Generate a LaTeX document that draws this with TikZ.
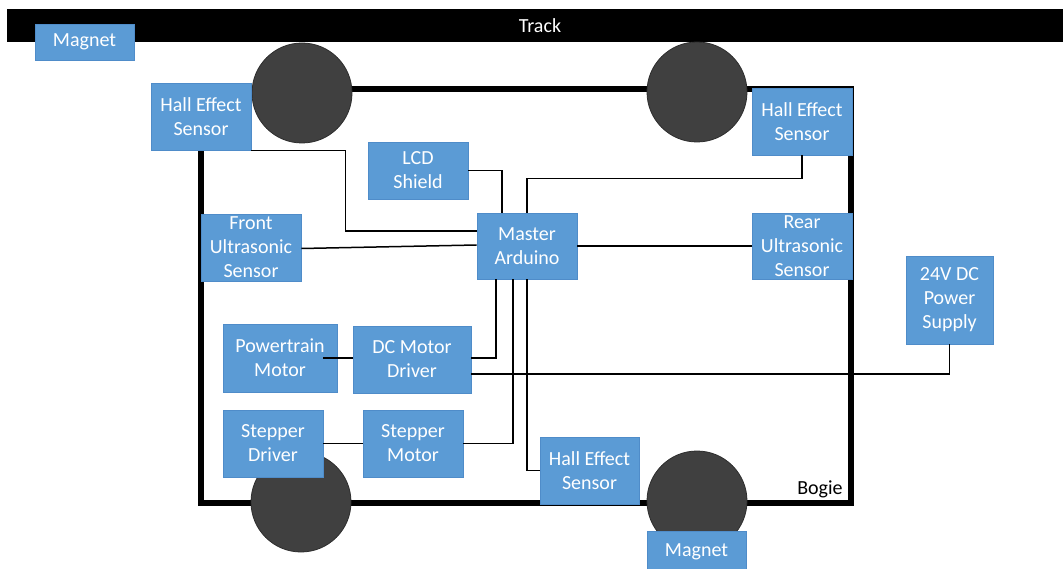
\documentclass[tikz,border=0pt]{standalone}
\usepackage{fontspec}
\setmainfont{Carlito}
\definecolor{boxblue}{RGB}{91,155,213}
\definecolor{boxedge}{RGB}{79,140,201}
\definecolor{wheelgrey}{RGB}{64,64,64}
\definecolor{wheeledge}{RGB}{45,45,45}
\begin{document}
\begin{tikzpicture}[x=1pt,y=-1pt,
  every node/.style={font=\fontsize{20}{24}\selectfont},
  box/.style={draw=boxedge, line width=0.8pt, fill=boxblue, text=white,
              align=center, inner sep=0pt},
  wheel/.style={circle, fill=wheelgrey, draw=wheeledge, line width=0.8pt,
                minimum size=100pt, inner sep=0pt},
  wire/.style={line width=1.5pt, black},
]
\useasboundingbox (0,0) rectangle (1063,569);

% rail along the top
\node[fill=black, minimum width=1056pt, minimum height=33pt, inner sep=0pt] (track) at (535,25.5) {};
\node[text=white] (tracklabel) at (540,26) {Track};

% bogie frame
\node[draw=black, line width=6pt, minimum width=650pt, minimum height=414pt, inner sep=0pt] (bogie) at (526,296) {};
\node (bogielabel) at (820,489) {Bogie};

% wheels
\node[wheel] (wheelTL) at (302,93) {};
\node[wheel] (wheelTR) at (697,92) {};
\node[wheel] (wheelBL) at (301,502) {};
\node[wheel] (wheelBR) at (697,501) {};

% components
\node[box, minimum width=99pt,  minimum height=36pt] (magnetA) at (84.5,42) {Magnet};
\node[box, minimum width=100pt, minimum height=67pt] (hallA)   at (201,116.5) {Hall Effect\\Sensor};
\node[box, minimum width=100pt, minimum height=57pt] (lcd)     at (418,170.5) {LCD\\Shield};
\node[box, minimum width=100pt, minimum height=66pt] (master)  at (527,246) {Master\\Arduino};
\node[box, minimum width=100pt, minimum height=67pt] (hallB)   at (802,121.5) {Hall Effect\\Sensor};
\node[box, minimum width=100pt, minimum height=66pt] (rear)    at (802,246) {Rear\\Ultrasonic\\Sensor};
\node[box, minimum width=87pt,  minimum height=88pt] (psu)     at (949.5,300) {24V DC\\Power\\Supply};
\node[box, minimum width=100pt, minimum height=67pt] (front)   at (251,247.5) {Front\\Ultrasonic\\Sensor};
\node[box, minimum width=114pt, minimum height=68pt] (ptmotor) at (280,358) {Powertrain\\Motor};
\node[box, minimum width=118pt, minimum height=67pt] (dcdrv)   at (412,359.5) {DC Motor\\Driver};
\node[box, minimum width=100pt, minimum height=67pt] (stepdrv) at (273,443.5) {Stepper\\Driver};
\node[box, minimum width=100pt, minimum height=67pt] (stepmot) at (413,443.5) {Stepper\\Motor};
\node[box, minimum width=99pt,  minimum height=67pt] (hallC)   at (589.5,470.5) {Hall Effect\\Sensor};
\node[box, minimum width=99pt,  minimum height=42pt] (magnetB) at (696.5,552) {Magnet};

% wiring
\draw[wire] (hallA.south east) -- ++(94,0) |- ([yshift=15pt]master.west);
\draw[wire] ([yshift=-1pt]front.east) -- ([yshift=1pt]master.west);
\draw[wire] (lcd.east) -| ([xshift=-25pt]master.north);
\draw[wire] (hallB.south) -- ++(0,23) -| (master.north);
\draw[wire] (master.east) -- (rear.west);
\draw[wire] ([xshift=-31pt]master.south) |- ([yshift=1.5pt]dcdrv.east);
\draw[wire] ([xshift=-14pt]master.south) |- (stepmot.east);
\draw[wire] (master.south) |- (hallC.west);
\draw[wire] ([yshift=-14.5pt]dcdrv.east) -| (psu.south);
\draw[wire] ([xshift=-14pt]ptmotor.east) -- (dcdrv.west |- ptmotor.east);
\draw[wire] (stepdrv.east) -- (stepmot.west);
\end{tikzpicture}
\end{document}
